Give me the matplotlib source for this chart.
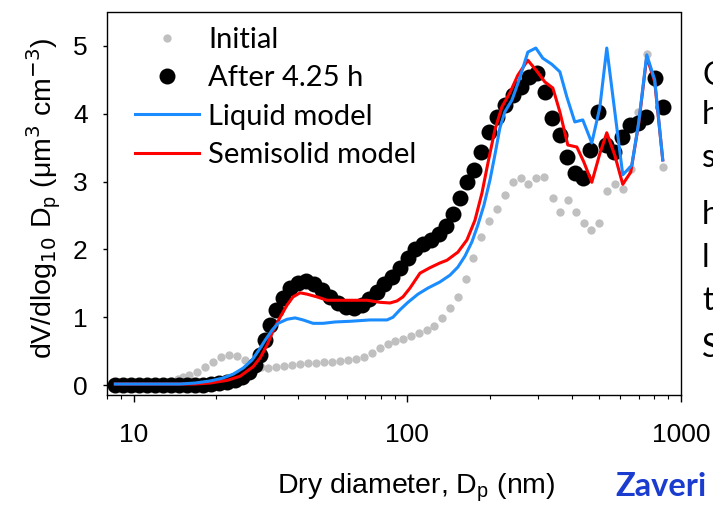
# size distribution: initial vs after 4.25 h, with liquid / semisolid model runs

import matplotlib
matplotlib.use('Agg')
from matplotlib import pyplot as plt
from matplotlib.ticker import FixedLocator, NullFormatter

# --- data (D in nm, dV/dlogDp in um3 cm-3) ---
initial_d = [8.58, 9.17, 9.81, 10.49, 11.22, 12.00, 12.84, 13.73, 14.56, 15.18,
             15.97, 17.08, 18.27, 19.54, 20.90, 22.35, 23.90, 25.56, 27.34, 29.24,
             31.01, 33.17, 35.48, 37.95, 40.59, 43.41, 46.43, 49.66, 53.11, 56.81,
             60.76, 64.98, 69.50, 74.33, 79.50, 85.03, 90.19, 96.45, 103.2, 110.3,
             118.0, 125.1, 133.9, 143.2, 153.1, 163.8, 173.7, 185.8, 198.7, 212.6,
             227.3, 243.1, 260.0, 275.7, 294.9, 315.4, 340.3, 360.9, 385.9, 412.8,
             441.5, 468.2, 500.7, 535.6, 572.8, 612.7, 655.3, 695.0, 749.7, 801.7,
             857.7]
initial_v = [0.0, 0.0, 0.0, 0.0, 0.01, 0.01, 0.03, 0.06, 0.09, 0.12,
             0.15, 0.19, 0.27, 0.34, 0.41, 0.44, 0.43, 0.37, 0.31, 0.27,
             0.25, 0.27, 0.28, 0.29, 0.31, 0.32, 0.32, 0.34, 0.34, 0.35,
             0.37, 0.38, 0.41, 0.47, 0.55, 0.60, 0.65, 0.68, 0.72, 0.77,
             0.81, 0.87, 0.99, 1.14, 1.30, 1.56, 1.87, 2.18, 2.42, 2.60,
             2.80, 2.99, 3.05, 2.96, 3.05, 3.07, 2.76, 2.55, 2.73, 2.55,
             2.39, 2.29, 2.39, 2.86, 2.96, 2.89, 3.19, 4.03, 4.88, 4.45,
             3.22]

after_d = [8.58, 9.17, 9.81, 10.49, 11.22, 12.00, 12.84, 13.73, 14.68, 15.70,
           16.80, 17.97, 19.21, 20.55, 21.98, 23.51, 24.93, 26.44, 27.81, 29.00,
           30.25, 31.54, 33.17, 35.19, 37.32, 39.92, 42.70, 45.66, 48.84, 52.23,
           55.86, 59.75, 63.90, 68.34, 72.47, 77.51, 82.22, 87.94, 94.06, 100.6,
           106.7, 114.1, 122.1, 130.6, 138.4, 146.9, 155.7, 165.2, 175.2, 185.8,
           198.7, 212.6, 227.3, 243.1, 260.0, 278.1, 297.4, 318.1, 337.4, 360.9,
           382.7, 409.3, 437.7, 464.3, 496.6, 531.1, 568.1, 607.6, 649.8, 695.0,
           743.3, 801.7, 857.7]
after_v = [0.0, 0.0, 0.0, 0.0, 0.0, 0.0, 0.0, 0.0, 0.0, 0.0,
           0.0, 0.0, 0.015, 0.03, 0.045, 0.07, 0.12, 0.19, 0.29, 0.44,
           0.66, 0.88, 1.11, 1.28, 1.43, 1.50, 1.53, 1.49, 1.40, 1.30,
           1.21, 1.15, 1.14, 1.18, 1.27, 1.37, 1.49, 1.59, 1.73, 1.87,
           2.01, 2.08, 2.14, 2.23, 2.35, 2.52, 2.76, 2.99, 3.17, 3.44,
           3.73, 3.95, 4.13, 4.28, 4.40, 4.54, 4.60, 4.32, 3.94, 3.69,
           3.36, 3.13, 3.05, 3.47, 4.03, 3.54, 3.44, 3.66, 3.83, 3.86,
           3.95, 4.53, 4.10]

liquid_d = [8.58, 11.50, 14.80, 16.80, 19.05, 21.08, 23.11, 25.14, 27.12, 28.76,
            30.25, 32.08, 33.74, 36.39, 38.92, 41.62, 45.27, 49.25, 54.46, 61.78,
            73.10, 84.34, 88.67, 94.06, 100.6, 109.4, 119.0, 131.6, 143.2, 153.1,
            162.4, 172.2, 181.1, 190.5, 200.4, 208.9, 217.9, 227.3, 241.1, 257.8,
            275.7, 294.9, 312.7, 337.4, 360.9, 382.7, 409.3, 437.7, 472.2, 505.0,
            535.6, 612.7, 661.0, 700.9, 749.7, 801.7, 857.7]
liquid_v = [0.015, 0.015, 0.015, 0.03, 0.06, 0.10, 0.16, 0.25, 0.37, 0.52,
            0.66, 0.81, 0.91, 0.97, 0.99, 0.96, 0.91, 0.91, 0.93, 0.94,
            0.96, 0.96, 1.00, 1.11, 1.22, 1.34, 1.43, 1.52, 1.62, 1.74,
            1.90, 2.11, 2.36, 2.65, 3.02, 3.39, 3.79, 4.03, 4.20, 4.53,
            4.91, 4.97, 4.82, 4.73, 4.62, 4.25, 3.88, 3.91, 3.57, 4.09,
            4.97, 3.10, 3.24, 3.88, 4.87, 4.50, 3.32]

semi_d = [8.58, 11.50, 14.80, 16.80, 19.05, 22.02, 24.51, 27.34, 29.00, 30.76,
          32.35, 34.31, 36.39, 38.26, 40.59, 43.05, 46.82, 50.92, 56.81, 63.36,
          71.27, 79.50, 86.49, 91.72, 96.45, 102.3, 111.3, 121.0, 131.6, 139.6,
          153.1, 165.2, 176.7, 187.4, 197.0, 208.9, 221.6, 237.1, 253.5, 275.7,
          297.4, 318.1, 340.3, 360.9, 385.9, 416.4, 441.5, 472.2, 505.0, 535.6,
          572.8, 612.7, 655.3, 700.9, 749.7, 801.7, 857.7]
semi_v = [0.015, 0.015, 0.015, 0.015, 0.03, 0.07, 0.13, 0.27, 0.40, 0.59,
          0.80, 1.00, 1.18, 1.30, 1.36, 1.34, 1.30, 1.25, 1.25, 1.25,
          1.25, 1.22, 1.21, 1.24, 1.30, 1.43, 1.65, 1.73, 1.80, 1.84,
          1.96, 2.14, 2.43, 2.83, 3.27, 3.76, 4.10, 4.31, 4.57, 4.79,
          4.63, 4.47, 4.38, 4.03, 3.54, 3.51, 3.29, 2.99, 3.41, 3.72,
          3.39, 2.96, 3.14, 3.86, 4.84, 4.47, 3.32]

labels = ['Initial', 'After 4.25 h', 'Liquid model', 'Semisolid model']
side_letters = ['C', 'h', 's', 'h', 'l', 't', 'S']

W, H = 713, 509
fig = plt.figure(figsize=(W / 100, H / 100), dpi=100)
ax = fig.add_axes([107 / W, 1 - 395 / H, (681 - 107) / W, (395 - 12.5) / H])

g, = ax.plot(initial_d, initial_v, 'o', color='#c0c0c0', ms=6, mew=0, zorder=2)
b, = ax.plot(after_d, after_v, 'o', color='black', ms=11.5, mew=0, zorder=3)
r, = ax.plot(semi_d, semi_v, '-', color='#ff0000', lw=2.2, zorder=4)
l, = ax.plot(liquid_d, liquid_v, '-', color='#1a8cff', lw=2.2, zorder=5)

ax.set_xscale('log')
ax.set_xlim(8, 1000)
ax.set_ylim(-0.147, 5.494)

tick_font = dict(family='Liberation Sans', size=19)
ax.set_xticks([10, 100, 1000])
ax.set_xticklabels(['10', '100', '1000'], **tick_font)
ax.xaxis.set_minor_locator(FixedLocator([m * 10 ** e for e in range(0, 3) for m in range(2, 10)]))
ax.xaxis.set_minor_formatter(NullFormatter())
ax.set_yticks(range(6))
ax.set_yticklabels([str(v) for v in range(6)], **tick_font)
ax.tick_params(axis='x', which='major', direction='out', length=5, width=1, pad=15)
ax.tick_params(axis='x', which='minor', direction='out', length=3, width=0.8)
ax.tick_params(axis='y', direction='out', length=3, width=1, pad=11)
for s in ax.spines.values():
    s.set_linewidth(1.0)

leg = ax.legend([g, b, l, r], labels, loc='upper left',
                bbox_to_anchor=(135 / W, 1 - 27 / H), bbox_transform=fig.transFigure,
                frameon=False, borderpad=0, borderaxespad=0, numpoints=1,
                handlelength=2.2, handletextpad=0.3, labelspacing=0.42,
                prop=dict(family='Lato', size=21))

fig.text(44 / W, 1 - 198 / H,
         r'dV/dlog$_{10}$ D$_\mathregular{p}$ ($\mathregular{\mu}$m$^3$ cm$^{-3}$)',
         rotation=90, ha='center', va='center', family='Liberation Sans', size=20.5)
fig.text(416 / W, 1 - 488 / H, r'Dry diameter, D$_\mathregular{p}$ (nm)',
         ha='center', va='center', family='Liberation Sans', size=20.5)
fig.text(661 / W, 1 - 486 / H, 'Zaveri', ha='center', va='center',
         family='Lato', weight='bold', size=23.5, color='#1a3ccf')

# partial words of slide text, clipped by the right edge as in the original
baselines = [85, 124, 167, 224, 267, 310, 357]
for ch, yb in zip(side_letters, baselines):
    fig.text(702 / W, 1 - yb / H, ch, ha='left', va='baseline', family='Lato', size=23)

fig.savefig('out.png', dpi=100)
